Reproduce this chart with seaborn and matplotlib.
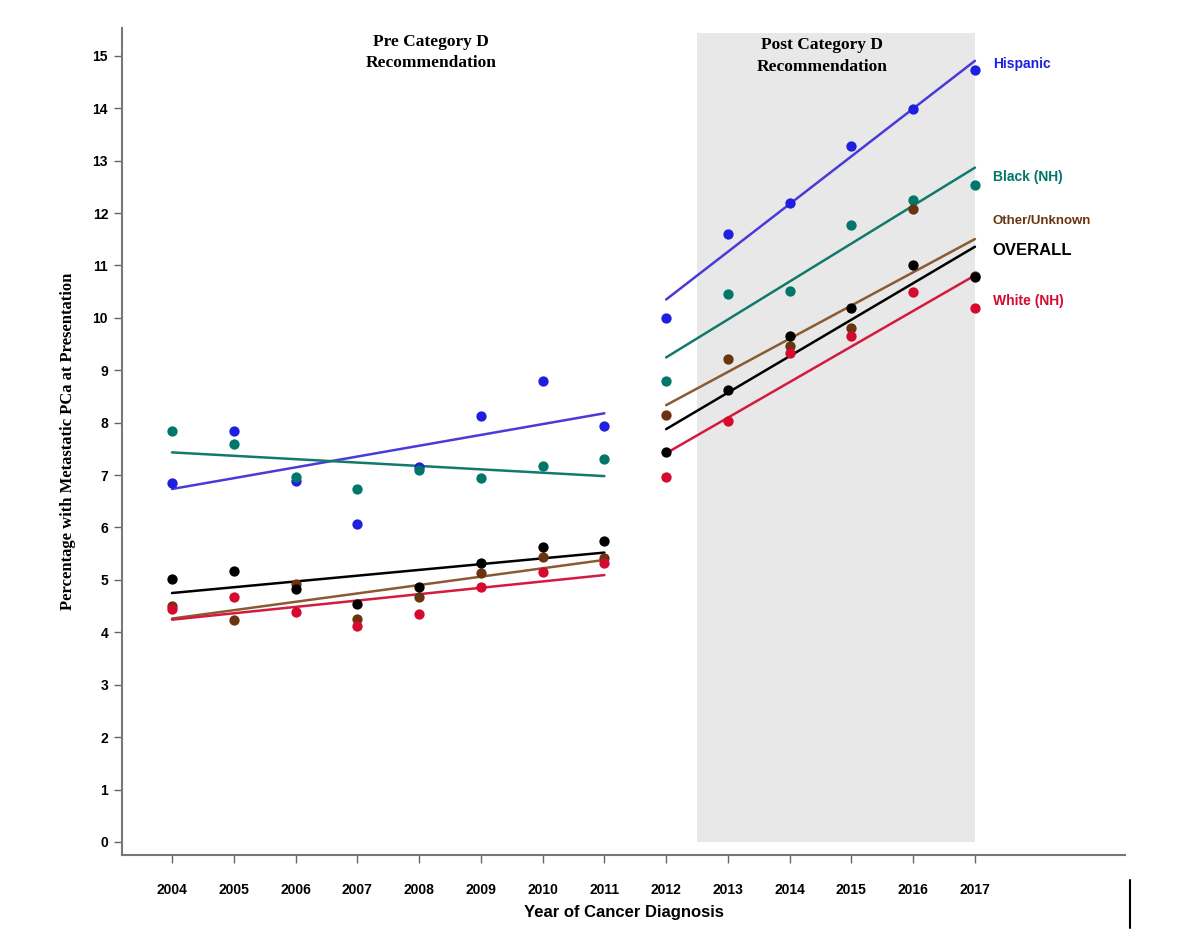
import numpy as np
import pandas as pd
import matplotlib
matplotlib.use("Agg")
import matplotlib.pyplot as plt
import seaborn as sns

# values
years = list(range(2004, 2018))
hispanic = [6.84, 7.84, 6.88, 6.07, 7.15, 8.13, 8.80, 7.94, 9.99, 11.60, 12.19, 13.28, 13.98, 14.72]
black_nh = [7.84, 7.59, 6.96, 6.73, 7.09, 6.95, 7.18, 7.31, 8.80, 10.45, 10.52, 11.77, 12.25, 12.54]
other_unk = [4.50, 4.24, 4.92, 4.25, 4.68, 5.13, 5.44, 5.41, 8.15, 9.21, 9.47, 9.80, 12.08, 10.80]
overall = [5.01, 5.16, 4.82, 4.54, 4.86, 5.33, 5.62, 5.74, 7.44, 8.63, 9.66, 10.18, 11.01, 10.78]
white_nh = [4.45, 4.68, 4.38, 4.12, 4.35, 4.87, 5.15, 5.33, 6.97, 8.04, 9.33, 9.66, 10.50, 10.18]

groups = ["Hispanic", "Black (NH)", "Other/Unknown", "OVERALL", "White (NH)"]
series = [hispanic, black_nh, other_unk, overall, white_nh]
dot_colors = ["#1f1fe0", "#00776a", "#6a3410", "#000000", "#d40a2e"]
line_colors = ["#4a3ad8", "#127a6c", "#8a5a30", "#000000", "#d41a3e"]
label_y = [14.85, 12.68, 11.84, 11.28, 10.32]
label_size = [10, 10, 9.5, 12, 10]

df = pd.DataFrame({g: s for g, s in zip(groups, series)}, index=years)
df.index.name = "year"
long = df.reset_index().melt(id_vars="year", var_name="group", value_name="pct")
long["period"] = np.where(long["year"] <= 2011, "pre", "post")

sns.set_style("white")
plt.rcParams["font.family"] = ["Liberation Sans", "DejaVu Sans"]

fig = plt.figure(figsize=(11.82, 9.4), dpi=100)
ax = fig.add_axes([0.1032, 0.0904, 0.8486, 0.8798])

# shaded post period
ax.add_patch(plt.Rectangle((2012.5, 0), 4.5, 15.43, facecolor="#e8e8e8",
                           edgecolor="none", zorder=0))

for g, dc, lc in zip(groups, dot_colors, line_colors):
    for per in ["pre", "post"]:
        sub = long[(long["group"] == g) & (long["period"] == per)]
        sns.regplot(data=sub, x="year", y="pct", ax=ax, ci=None, truncate=True,
                    scatter_kws=dict(s=55, color=dc, alpha=1, linewidths=0, zorder=3),
                    line_kws=dict(color=lc, lw=1.8, zorder=2))

for g, c, yy, fs in zip(groups, dot_colors, label_y, label_size):
    ax.text(2017.29, yy, g, color=c, fontsize=fs, fontweight="bold",
            va="center", ha="left")

ax.text(2008.2, 15.42, "Pre Category D\nRecommendation", ha="center", va="top",
        fontsize=12.5, fontweight="bold", family="Liberation Serif", linespacing=1.45,
        color="black")
ax.text(2014.52, 15.35, "Post Category D\nRecommendation", ha="center", va="top",
        fontsize=12.5, fontweight="bold", family="Liberation Serif", linespacing=1.45,
        color="black")

ax.set_xlim(2003.19, 2019.43)
ax.set_ylim(-0.25, 15.53)
ax.set_xticks(years)
ax.set_xticklabels([str(y) for y in years], fontsize=10, fontweight="bold")
ax.set_yticks(range(0, 16))
ax.set_yticklabels([str(v) for v in range(0, 16)], fontsize=10, fontweight="bold")
ax.tick_params(axis="x", bottom=True, length=6, width=1, pad=14, color="#666666",
               labelcolor="black")
ax.tick_params(axis="y", left=True, length=6, width=1, pad=4, color="#666666",
               labelcolor="black")
ax.set_xlabel("Year of Cancer Diagnosis", fontsize=12, fontweight="bold", labelpad=6,
              color="black")
ax.set_ylabel("Percentage with Metastatic PCa at Presentation", fontsize=12,
              fontweight="bold", family="Liberation Serif", labelpad=12, color="black")
for side in ["top", "right"]:
    ax.spines[side].set_visible(False)
for side in ["left", "bottom"]:
    ax.spines[side].set_color("#777777")
    ax.spines[side].set_linewidth(1.5)
ax.grid(False)

# stray cursor bar at bottom right of the reference
fig.add_artist(plt.Line2D([1130 / 1182, 1130 / 1182], [1 - 880 / 940, 1 - 928 / 940],
                          color="black", lw=1.5))

fig.savefig("out.png", dpi=100)
